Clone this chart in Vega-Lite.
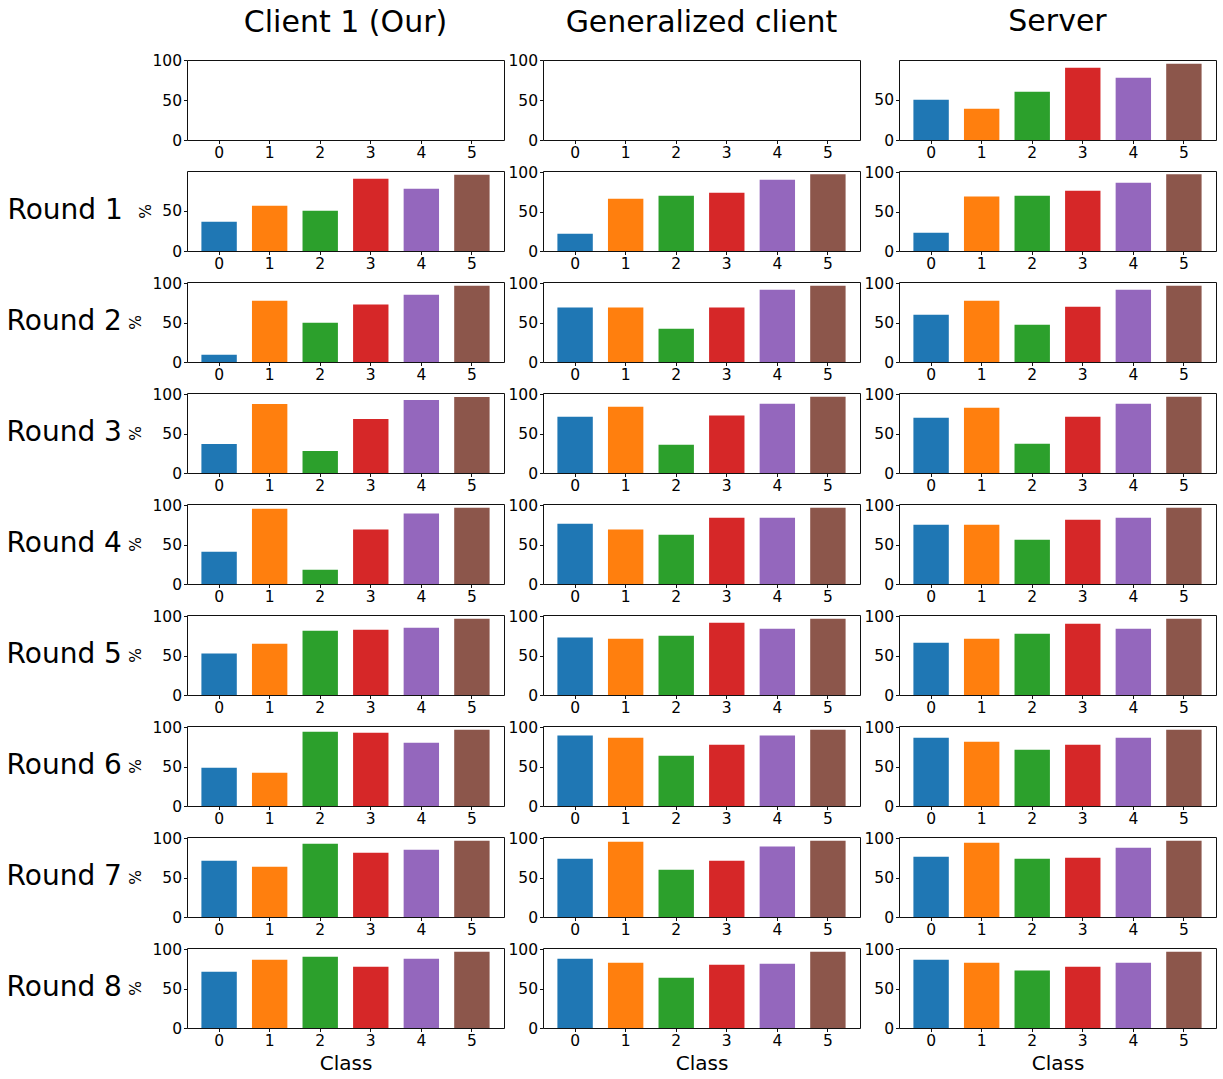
{
"$schema": "https://vega.github.io/schema/vega-lite/v6.json",
"background": "white",
"padding": {"left": 6, "top": 6, "right": 5, "bottom": 5},
"datasets": {"acc": [
{"round":0,"model":"server","cls":0,"acc":50.1},{"round":0,"model":"server","cls":1,"acc":38.9},{"round":0,"model":"server","cls":2,"acc":60},{"round":0,"model":"server","cls":3,"acc":89.8},{"round":0,"model":"server","cls":4,"acc":77.4},{"round":0,"model":"server","cls":5,"acc":94.7},
{"round":1,"model":"client","cls":0,"acc":36.6},{"round":1,"model":"client","cls":1,"acc":56.6},{"round":1,"model":"client","cls":2,"acc":50.3},{"round":1,"model":"client","cls":3,"acc":90.2},{"round":1,"model":"client","cls":4,"acc":77.8},{"round":1,"model":"client","cls":5,"acc":95},
{"round":2,"model":"client","cls":0,"acc":9.3},{"round":2,"model":"client","cls":1,"acc":77.8},{"round":2,"model":"client","cls":2,"acc":49.9},{"round":2,"model":"client","cls":3,"acc":72.8},{"round":2,"model":"client","cls":4,"acc":85.4},{"round":2,"model":"client","cls":5,"acc":96.9},
{"round":3,"model":"client","cls":0,"acc":36.8},{"round":3,"model":"client","cls":1,"acc":87.6},{"round":3,"model":"client","cls":2,"acc":27.9},{"round":3,"model":"client","cls":3,"acc":68.5},{"round":3,"model":"client","cls":4,"acc":92.6},{"round":3,"model":"client","cls":5,"acc":96.4},
{"round":4,"model":"client","cls":0,"acc":41},{"round":4,"model":"client","cls":1,"acc":95.6},{"round":4,"model":"client","cls":2,"acc":18.2},{"round":4,"model":"client","cls":3,"acc":69},{"round":4,"model":"client","cls":4,"acc":89.3},{"round":4,"model":"client","cls":5,"acc":96.9},
{"round":5,"model":"client","cls":0,"acc":52.5},{"round":5,"model":"client","cls":1,"acc":65.1},{"round":5,"model":"client","cls":2,"acc":81.6},{"round":5,"model":"client","cls":3,"acc":82.9},{"round":5,"model":"client","cls":4,"acc":85.4},{"round":5,"model":"client","cls":5,"acc":96.9},
{"round":6,"model":"client","cls":0,"acc":48.6},{"round":6,"model":"client","cls":1,"acc":42.3},{"round":6,"model":"client","cls":2,"acc":94.3},{"round":6,"model":"client","cls":3,"acc":93},{"round":6,"model":"client","cls":4,"acc":80.4},{"round":6,"model":"client","cls":5,"acc":96.9},
{"round":7,"model":"client","cls":0,"acc":71.5},{"round":7,"model":"client","cls":1,"acc":63.9},{"round":7,"model":"client","cls":2,"acc":93},{"round":7,"model":"client","cls":3,"acc":81.6},{"round":7,"model":"client","cls":4,"acc":85.4},{"round":7,"model":"client","cls":5,"acc":96.9},
{"round":8,"model":"client","cls":0,"acc":71.5},{"round":8,"model":"client","cls":1,"acc":86.7},{"round":8,"model":"client","cls":2,"acc":90.5},{"round":8,"model":"client","cls":3,"acc":77.8},{"round":8,"model":"client","cls":4,"acc":88},{"round":8,"model":"client","cls":5,"acc":96.9},
{"round":1,"model":"general","cls":0,"acc":22},{"round":1,"model":"general","cls":1,"acc":66.4},{"round":1,"model":"general","cls":2,"acc":70.2},{"round":1,"model":"general","cls":3,"acc":74},{"round":1,"model":"general","cls":4,"acc":90.5},{"round":1,"model":"general","cls":5,"acc":97.5},
{"round":2,"model":"general","cls":0,"acc":69},{"round":2,"model":"general","cls":1,"acc":69},{"round":2,"model":"general","cls":2,"acc":42.3},{"round":2,"model":"general","cls":3,"acc":69},{"round":2,"model":"general","cls":4,"acc":91.8},{"round":2,"model":"general","cls":5,"acc":96.9},
{"round":3,"model":"general","cls":0,"acc":71.5},{"round":3,"model":"general","cls":1,"acc":84.2},{"round":3,"model":"general","cls":2,"acc":36},{"round":3,"model":"general","cls":3,"acc":72.8},{"round":3,"model":"general","cls":4,"acc":88},{"round":3,"model":"general","cls":5,"acc":96.9},
{"round":4,"model":"general","cls":0,"acc":76.6},{"round":4,"model":"general","cls":1,"acc":69},{"round":4,"model":"general","cls":2,"acc":62.6},{"round":4,"model":"general","cls":3,"acc":84.2},{"round":4,"model":"general","cls":4,"acc":84.2},{"round":4,"model":"general","cls":5,"acc":96.9},
{"round":5,"model":"general","cls":0,"acc":72.8},{"round":5,"model":"general","cls":1,"acc":71.5},{"round":5,"model":"general","cls":2,"acc":75.3},{"round":5,"model":"general","cls":3,"acc":91.8},{"round":5,"model":"general","cls":4,"acc":84.2},{"round":5,"model":"general","cls":5,"acc":96.9},
{"round":6,"model":"general","cls":0,"acc":89.3},{"round":6,"model":"general","cls":1,"acc":86.7},{"round":6,"model":"general","cls":2,"acc":63.9},{"round":6,"model":"general","cls":3,"acc":77.8},{"round":6,"model":"general","cls":4,"acc":89.3},{"round":6,"model":"general","cls":5,"acc":96.9},
{"round":7,"model":"general","cls":0,"acc":74},{"round":7,"model":"general","cls":1,"acc":95.6},{"round":7,"model":"general","cls":2,"acc":60},{"round":7,"model":"general","cls":3,"acc":71.5},{"round":7,"model":"general","cls":4,"acc":89.3},{"round":7,"model":"general","cls":5,"acc":96.9},
{"round":8,"model":"general","cls":0,"acc":88},{"round":8,"model":"general","cls":1,"acc":82.9},{"round":8,"model":"general","cls":2,"acc":63.9},{"round":8,"model":"general","cls":3,"acc":80.4},{"round":8,"model":"general","cls":4,"acc":81.6},{"round":8,"model":"general","cls":5,"acc":96.9},
{"round":1,"model":"server","cls":0,"acc":23.3},{"round":1,"model":"server","cls":1,"acc":69},{"round":1,"model":"server","cls":2,"acc":70.2},{"round":1,"model":"server","cls":3,"acc":76.6},{"round":1,"model":"server","cls":4,"acc":86.7},{"round":1,"model":"server","cls":5,"acc":97.5},
{"round":2,"model":"server","cls":0,"acc":60},{"round":2,"model":"server","cls":1,"acc":77.8},{"round":2,"model":"server","cls":2,"acc":47.4},{"round":2,"model":"server","cls":3,"acc":70.2},{"round":2,"model":"server","cls":4,"acc":91.8},{"round":2,"model":"server","cls":5,"acc":96.9},
{"round":3,"model":"server","cls":0,"acc":70.2},{"round":3,"model":"server","cls":1,"acc":82.9},{"round":3,"model":"server","cls":2,"acc":37.2},{"round":3,"model":"server","cls":3,"acc":71.5},{"round":3,"model":"server","cls":4,"acc":88},{"round":3,"model":"server","cls":5,"acc":96.9},
{"round":4,"model":"server","cls":0,"acc":75.3},{"round":4,"model":"server","cls":1,"acc":75.3},{"round":4,"model":"server","cls":2,"acc":56.3},{"round":4,"model":"server","cls":3,"acc":81.6},{"round":4,"model":"server","cls":4,"acc":84.2},{"round":4,"model":"server","cls":5,"acc":96.9},
{"round":5,"model":"server","cls":0,"acc":66.4},{"round":5,"model":"server","cls":1,"acc":71.5},{"round":5,"model":"server","cls":2,"acc":77.8},{"round":5,"model":"server","cls":3,"acc":90.5},{"round":5,"model":"server","cls":4,"acc":84.2},{"round":5,"model":"server","cls":5,"acc":96.9},
{"round":6,"model":"server","cls":0,"acc":86.7},{"round":6,"model":"server","cls":1,"acc":81.6},{"round":6,"model":"server","cls":2,"acc":71.5},{"round":6,"model":"server","cls":3,"acc":77.8},{"round":6,"model":"server","cls":4,"acc":86.7},{"round":6,"model":"server","cls":5,"acc":96.9},
{"round":7,"model":"server","cls":0,"acc":76.6},{"round":7,"model":"server","cls":1,"acc":94.3},{"round":7,"model":"server","cls":2,"acc":74},{"round":7,"model":"server","cls":3,"acc":75.3},{"round":7,"model":"server","cls":4,"acc":88},{"round":7,"model":"server","cls":5,"acc":96.9},
{"round":8,"model":"server","cls":0,"acc":86.7},{"round":8,"model":"server","cls":1,"acc":82.9},{"round":8,"model":"server","cls":2,"acc":72.8},{"round":8,"model":"server","cls":3,"acc":77.8},{"round":8,"model":"server","cls":4,"acc":82.9},{"round":8,"model":"server","cls":5,"acc":96.9}
]},
"data": {"name": "acc"},
"columns": 3,
"bounds": "flush",
"spacing": {"row": 31, "column": 39},
"resolve": {"scale": {"x": "independent", "y": "independent"}},
"config": {
  "font": "DejaVu Sans",
  "view": {"stroke": "#111", "strokeWidth": 1},
  "axis": {"grid": false, "domain": false, "tickColor": "#111", "tickSize": 3.5, "tickWidth": 1, "labelFontSize": 15.5, "labelColor": "#000", "labelFont": "DejaVu Sans", "labelPadding": 2, "titleFont": "DejaVu Sans", "titleFontWeight": "normal", "titleColor": "#000", "titleFontSize": 15.5, "titlePadding": 8},
  "axisX": {"labelAngle": 0, "titleFontSize": 20, "titlePadding": 4},
  "title": {"font": "DejaVu Sans", "fontWeight": "normal", "color": "#000"},
  "bar": {"stroke": null}
},
"concat": [
{"width":317,"height":80,"title":{"text":"Client 1 (Our)","fontSize":30,"offset":15,"frame":"group"},"transform":[{"filter":"datum.round==0 && datum.model=='client'"}],"mark":"bar","encoding":{"x":{"field":"cls","type":"ordinal","scale":{"domain":[0,1,2,3,4,5],"paddingInner":0.3,"paddingOuter":0.285},"axis":{"title":null}},"y":{"field":"acc","type":"quantitative","scale":{"domain":[0,100],"nice":false},"axis":{"values":[0,50,100],"title":null}},"color":{"field":"cls","type":"nominal","scale":{"domain":[0,1,2,3,4,5],"range":["#1f77b4","#ff7f0e","#2ca02c","#d62728","#9467bd","#8c564b"]},"legend":null}}},
{"width":317,"height":80,"title":{"text":"Generalized client","fontSize":30,"offset":15,"frame":"group"},"transform":[{"filter":"datum.round==0 && datum.model=='general'"}],"mark":"bar","encoding":{"x":{"field":"cls","type":"ordinal","scale":{"domain":[0,1,2,3,4,5],"paddingInner":0.3,"paddingOuter":0.285},"axis":{"title":null}},"y":{"field":"acc","type":"quantitative","scale":{"domain":[0,100],"nice":false},"axis":{"values":[0,50,100],"title":null}},"color":{"field":"cls","type":"nominal","scale":{"domain":[0,1,2,3,4,5],"range":["#1f77b4","#ff7f0e","#2ca02c","#d62728","#9467bd","#8c564b"]},"legend":null}}},
{"width":317,"height":80,"title":{"text":"Server","fontSize":30,"offset":23,"frame":"group"},"transform":[{"filter":"datum.round==0 && datum.model=='server'"}],"mark":"bar","encoding":{"x":{"field":"cls","type":"ordinal","scale":{"domain":[0,1,2,3,4,5],"paddingInner":0.3,"paddingOuter":0.285},"axis":{"title":null}},"y":{"field":"acc","type":"quantitative","scale":{"domain":[0,99.3],"nice":false},"axis":{"values":[0,50,100],"title":null}},"color":{"field":"cls","type":"nominal","scale":{"domain":[0,1,2,3,4,5],"range":["#1f77b4","#ff7f0e","#2ca02c","#d62728","#9467bd","#8c564b"]},"legend":null}}},

{"width":317,"height":80,"title":{"text":"Round 1","orient":"left","angle":0,"align":"left","baseline":"middle","anchor":"middle","fontSize":28,"offset":16},"transform":[{"filter":"datum.round==1 && datum.model=='client'"}],"mark":"bar","encoding":{"x":{"field":"cls","type":"ordinal","scale":{"domain":[0,1,2,3,4,5],"paddingInner":0.3,"paddingOuter":0.285},"axis":{"title":null}},"y":{"field":"acc","type":"quantitative","scale":{"domain":[0,99.8],"nice":false},"axis":{"values":[0,50,100],"title":"%"}},"color":{"field":"cls","type":"nominal","scale":{"domain":[0,1,2,3,4,5],"range":["#1f77b4","#ff7f0e","#2ca02c","#d62728","#9467bd","#8c564b"]},"legend":null}}},
{"width":317,"height":80,"transform":[{"filter":"datum.round==1 && datum.model=='general'"}],"mark":"bar","encoding":{"x":{"field":"cls","type":"ordinal","scale":{"domain":[0,1,2,3,4,5],"paddingInner":0.3,"paddingOuter":0.285},"axis":{"title":null}},"y":{"field":"acc","type":"quantitative","scale":{"domain":[0,101.5],"nice":false},"axis":{"values":[0,50,100],"title":null}},"color":{"field":"cls","type":"nominal","scale":{"domain":[0,1,2,3,4,5],"range":["#1f77b4","#ff7f0e","#2ca02c","#d62728","#9467bd","#8c564b"]},"legend":null}}},
{"width":317,"height":80,"transform":[{"filter":"datum.round==1 && datum.model=='server'"}],"mark":"bar","encoding":{"x":{"field":"cls","type":"ordinal","scale":{"domain":[0,1,2,3,4,5],"paddingInner":0.3,"paddingOuter":0.285},"axis":{"title":null}},"y":{"field":"acc","type":"quantitative","scale":{"domain":[0,101.5],"nice":false},"axis":{"values":[0,50,100],"title":null}},"color":{"field":"cls","type":"nominal","scale":{"domain":[0,1,2,3,4,5],"range":["#1f77b4","#ff7f0e","#2ca02c","#d62728","#9467bd","#8c564b"]},"legend":null}}},

{"width":317,"height":80,"title":{"text":"Round 2","orient":"left","angle":0,"align":"left","baseline":"middle","anchor":"middle","fontSize":28,"offset":7},"transform":[{"filter":"datum.round==2 && datum.model=='client'"}],"mark":"bar","encoding":{"x":{"field":"cls","type":"ordinal","scale":{"domain":[0,1,2,3,4,5],"paddingInner":0.3,"paddingOuter":0.285},"axis":{"title":null}},"y":{"field":"acc","type":"quantitative","scale":{"domain":[0,101.5],"nice":false},"axis":{"values":[0,50,100],"title":"%"}},"color":{"field":"cls","type":"nominal","scale":{"domain":[0,1,2,3,4,5],"range":["#1f77b4","#ff7f0e","#2ca02c","#d62728","#9467bd","#8c564b"]},"legend":null}}},
{"width":317,"height":80,"transform":[{"filter":"datum.round==2 && datum.model=='general'"}],"mark":"bar","encoding":{"x":{"field":"cls","type":"ordinal","scale":{"domain":[0,1,2,3,4,5],"paddingInner":0.3,"paddingOuter":0.285},"axis":{"title":null}},"y":{"field":"acc","type":"quantitative","scale":{"domain":[0,101.5],"nice":false},"axis":{"values":[0,50,100],"title":null}},"color":{"field":"cls","type":"nominal","scale":{"domain":[0,1,2,3,4,5],"range":["#1f77b4","#ff7f0e","#2ca02c","#d62728","#9467bd","#8c564b"]},"legend":null}}},
{"width":317,"height":80,"transform":[{"filter":"datum.round==2 && datum.model=='server'"}],"mark":"bar","encoding":{"x":{"field":"cls","type":"ordinal","scale":{"domain":[0,1,2,3,4,5],"paddingInner":0.3,"paddingOuter":0.285},"axis":{"title":null}},"y":{"field":"acc","type":"quantitative","scale":{"domain":[0,101.5],"nice":false},"axis":{"values":[0,50,100],"title":null}},"color":{"field":"cls","type":"nominal","scale":{"domain":[0,1,2,3,4,5],"range":["#1f77b4","#ff7f0e","#2ca02c","#d62728","#9467bd","#8c564b"]},"legend":null}}},

{"width":317,"height":80,"title":{"text":"Round 3","orient":"left","angle":0,"align":"left","baseline":"middle","anchor":"middle","fontSize":28,"offset":7},"transform":[{"filter":"datum.round==3 && datum.model=='client'"}],"mark":"bar","encoding":{"x":{"field":"cls","type":"ordinal","scale":{"domain":[0,1,2,3,4,5],"paddingInner":0.3,"paddingOuter":0.285},"axis":{"title":null}},"y":{"field":"acc","type":"quantitative","scale":{"domain":[0,101.5],"nice":false},"axis":{"values":[0,50,100],"title":"%"}},"color":{"field":"cls","type":"nominal","scale":{"domain":[0,1,2,3,4,5],"range":["#1f77b4","#ff7f0e","#2ca02c","#d62728","#9467bd","#8c564b"]},"legend":null}}},
{"width":317,"height":80,"transform":[{"filter":"datum.round==3 && datum.model=='general'"}],"mark":"bar","encoding":{"x":{"field":"cls","type":"ordinal","scale":{"domain":[0,1,2,3,4,5],"paddingInner":0.3,"paddingOuter":0.285},"axis":{"title":null}},"y":{"field":"acc","type":"quantitative","scale":{"domain":[0,101.5],"nice":false},"axis":{"values":[0,50,100],"title":null}},"color":{"field":"cls","type":"nominal","scale":{"domain":[0,1,2,3,4,5],"range":["#1f77b4","#ff7f0e","#2ca02c","#d62728","#9467bd","#8c564b"]},"legend":null}}},
{"width":317,"height":80,"transform":[{"filter":"datum.round==3 && datum.model=='server'"}],"mark":"bar","encoding":{"x":{"field":"cls","type":"ordinal","scale":{"domain":[0,1,2,3,4,5],"paddingInner":0.3,"paddingOuter":0.285},"axis":{"title":null}},"y":{"field":"acc","type":"quantitative","scale":{"domain":[0,101.5],"nice":false},"axis":{"values":[0,50,100],"title":null}},"color":{"field":"cls","type":"nominal","scale":{"domain":[0,1,2,3,4,5],"range":["#1f77b4","#ff7f0e","#2ca02c","#d62728","#9467bd","#8c564b"]},"legend":null}}},

{"width":317,"height":80,"title":{"text":"Round 4","orient":"left","angle":0,"align":"left","baseline":"middle","anchor":"middle","fontSize":28,"offset":7},"transform":[{"filter":"datum.round==4 && datum.model=='client'"}],"mark":"bar","encoding":{"x":{"field":"cls","type":"ordinal","scale":{"domain":[0,1,2,3,4,5],"paddingInner":0.3,"paddingOuter":0.285},"axis":{"title":null}},"y":{"field":"acc","type":"quantitative","scale":{"domain":[0,101.5],"nice":false},"axis":{"values":[0,50,100],"title":"%"}},"color":{"field":"cls","type":"nominal","scale":{"domain":[0,1,2,3,4,5],"range":["#1f77b4","#ff7f0e","#2ca02c","#d62728","#9467bd","#8c564b"]},"legend":null}}},
{"width":317,"height":80,"transform":[{"filter":"datum.round==4 && datum.model=='general'"}],"mark":"bar","encoding":{"x":{"field":"cls","type":"ordinal","scale":{"domain":[0,1,2,3,4,5],"paddingInner":0.3,"paddingOuter":0.285},"axis":{"title":null}},"y":{"field":"acc","type":"quantitative","scale":{"domain":[0,101.5],"nice":false},"axis":{"values":[0,50,100],"title":null}},"color":{"field":"cls","type":"nominal","scale":{"domain":[0,1,2,3,4,5],"range":["#1f77b4","#ff7f0e","#2ca02c","#d62728","#9467bd","#8c564b"]},"legend":null}}},
{"width":317,"height":80,"transform":[{"filter":"datum.round==4 && datum.model=='server'"}],"mark":"bar","encoding":{"x":{"field":"cls","type":"ordinal","scale":{"domain":[0,1,2,3,4,5],"paddingInner":0.3,"paddingOuter":0.285},"axis":{"title":null}},"y":{"field":"acc","type":"quantitative","scale":{"domain":[0,101.5],"nice":false},"axis":{"values":[0,50,100],"title":null}},"color":{"field":"cls","type":"nominal","scale":{"domain":[0,1,2,3,4,5],"range":["#1f77b4","#ff7f0e","#2ca02c","#d62728","#9467bd","#8c564b"]},"legend":null}}},

{"width":317,"height":80,"title":{"text":"Round 5","orient":"left","angle":0,"align":"left","baseline":"middle","anchor":"middle","fontSize":28,"offset":7},"transform":[{"filter":"datum.round==5 && datum.model=='client'"}],"mark":"bar","encoding":{"x":{"field":"cls","type":"ordinal","scale":{"domain":[0,1,2,3,4,5],"paddingInner":0.3,"paddingOuter":0.285},"axis":{"title":null}},"y":{"field":"acc","type":"quantitative","scale":{"domain":[0,101.5],"nice":false},"axis":{"values":[0,50,100],"title":"%"}},"color":{"field":"cls","type":"nominal","scale":{"domain":[0,1,2,3,4,5],"range":["#1f77b4","#ff7f0e","#2ca02c","#d62728","#9467bd","#8c564b"]},"legend":null}}},
{"width":317,"height":80,"transform":[{"filter":"datum.round==5 && datum.model=='general'"}],"mark":"bar","encoding":{"x":{"field":"cls","type":"ordinal","scale":{"domain":[0,1,2,3,4,5],"paddingInner":0.3,"paddingOuter":0.285},"axis":{"title":null}},"y":{"field":"acc","type":"quantitative","scale":{"domain":[0,101.5],"nice":false},"axis":{"values":[0,50,100],"title":null}},"color":{"field":"cls","type":"nominal","scale":{"domain":[0,1,2,3,4,5],"range":["#1f77b4","#ff7f0e","#2ca02c","#d62728","#9467bd","#8c564b"]},"legend":null}}},
{"width":317,"height":80,"transform":[{"filter":"datum.round==5 && datum.model=='server'"}],"mark":"bar","encoding":{"x":{"field":"cls","type":"ordinal","scale":{"domain":[0,1,2,3,4,5],"paddingInner":0.3,"paddingOuter":0.285},"axis":{"title":null}},"y":{"field":"acc","type":"quantitative","scale":{"domain":[0,101.5],"nice":false},"axis":{"values":[0,50,100],"title":null}},"color":{"field":"cls","type":"nominal","scale":{"domain":[0,1,2,3,4,5],"range":["#1f77b4","#ff7f0e","#2ca02c","#d62728","#9467bd","#8c564b"]},"legend":null}}},

{"width":317,"height":80,"title":{"text":"Round 6","orient":"left","angle":0,"align":"left","baseline":"middle","anchor":"middle","fontSize":28,"offset":7},"transform":[{"filter":"datum.round==6 && datum.model=='client'"}],"mark":"bar","encoding":{"x":{"field":"cls","type":"ordinal","scale":{"domain":[0,1,2,3,4,5],"paddingInner":0.3,"paddingOuter":0.285},"axis":{"title":null}},"y":{"field":"acc","type":"quantitative","scale":{"domain":[0,101.5],"nice":false},"axis":{"values":[0,50,100],"title":"%"}},"color":{"field":"cls","type":"nominal","scale":{"domain":[0,1,2,3,4,5],"range":["#1f77b4","#ff7f0e","#2ca02c","#d62728","#9467bd","#8c564b"]},"legend":null}}},
{"width":317,"height":80,"transform":[{"filter":"datum.round==6 && datum.model=='general'"}],"mark":"bar","encoding":{"x":{"field":"cls","type":"ordinal","scale":{"domain":[0,1,2,3,4,5],"paddingInner":0.3,"paddingOuter":0.285},"axis":{"title":null}},"y":{"field":"acc","type":"quantitative","scale":{"domain":[0,101.5],"nice":false},"axis":{"values":[0,50,100],"title":null}},"color":{"field":"cls","type":"nominal","scale":{"domain":[0,1,2,3,4,5],"range":["#1f77b4","#ff7f0e","#2ca02c","#d62728","#9467bd","#8c564b"]},"legend":null}}},
{"width":317,"height":80,"transform":[{"filter":"datum.round==6 && datum.model=='server'"}],"mark":"bar","encoding":{"x":{"field":"cls","type":"ordinal","scale":{"domain":[0,1,2,3,4,5],"paddingInner":0.3,"paddingOuter":0.285},"axis":{"title":null}},"y":{"field":"acc","type":"quantitative","scale":{"domain":[0,101.5],"nice":false},"axis":{"values":[0,50,100],"title":null}},"color":{"field":"cls","type":"nominal","scale":{"domain":[0,1,2,3,4,5],"range":["#1f77b4","#ff7f0e","#2ca02c","#d62728","#9467bd","#8c564b"]},"legend":null}}},

{"width":317,"height":80,"title":{"text":"Round 7","orient":"left","angle":0,"align":"left","baseline":"middle","anchor":"middle","fontSize":28,"offset":7},"transform":[{"filter":"datum.round==7 && datum.model=='client'"}],"mark":"bar","encoding":{"x":{"field":"cls","type":"ordinal","scale":{"domain":[0,1,2,3,4,5],"paddingInner":0.3,"paddingOuter":0.285},"axis":{"title":null}},"y":{"field":"acc","type":"quantitative","scale":{"domain":[0,101.5],"nice":false},"axis":{"values":[0,50,100],"title":"%"}},"color":{"field":"cls","type":"nominal","scale":{"domain":[0,1,2,3,4,5],"range":["#1f77b4","#ff7f0e","#2ca02c","#d62728","#9467bd","#8c564b"]},"legend":null}}},
{"width":317,"height":80,"transform":[{"filter":"datum.round==7 && datum.model=='general'"}],"mark":"bar","encoding":{"x":{"field":"cls","type":"ordinal","scale":{"domain":[0,1,2,3,4,5],"paddingInner":0.3,"paddingOuter":0.285},"axis":{"title":null}},"y":{"field":"acc","type":"quantitative","scale":{"domain":[0,101.5],"nice":false},"axis":{"values":[0,50,100],"title":null}},"color":{"field":"cls","type":"nominal","scale":{"domain":[0,1,2,3,4,5],"range":["#1f77b4","#ff7f0e","#2ca02c","#d62728","#9467bd","#8c564b"]},"legend":null}}},
{"width":317,"height":80,"transform":[{"filter":"datum.round==7 && datum.model=='server'"}],"mark":"bar","encoding":{"x":{"field":"cls","type":"ordinal","scale":{"domain":[0,1,2,3,4,5],"paddingInner":0.3,"paddingOuter":0.285},"axis":{"title":null}},"y":{"field":"acc","type":"quantitative","scale":{"domain":[0,101.5],"nice":false},"axis":{"values":[0,50,100],"title":null}},"color":{"field":"cls","type":"nominal","scale":{"domain":[0,1,2,3,4,5],"range":["#1f77b4","#ff7f0e","#2ca02c","#d62728","#9467bd","#8c564b"]},"legend":null}}},

{"width":317,"height":80,"title":{"text":"Round 8","orient":"left","angle":0,"align":"left","baseline":"middle","anchor":"middle","fontSize":28,"offset":7},"transform":[{"filter":"datum.round==8 && datum.model=='client'"}],"mark":"bar","encoding":{"x":{"field":"cls","type":"ordinal","scale":{"domain":[0,1,2,3,4,5],"paddingInner":0.3,"paddingOuter":0.285},"axis":{"title":"Class"}},"y":{"field":"acc","type":"quantitative","scale":{"domain":[0,101.5],"nice":false},"axis":{"values":[0,50,100],"title":"%"}},"color":{"field":"cls","type":"nominal","scale":{"domain":[0,1,2,3,4,5],"range":["#1f77b4","#ff7f0e","#2ca02c","#d62728","#9467bd","#8c564b"]},"legend":null}}},
{"width":317,"height":80,"transform":[{"filter":"datum.round==8 && datum.model=='general'"}],"mark":"bar","encoding":{"x":{"field":"cls","type":"ordinal","scale":{"domain":[0,1,2,3,4,5],"paddingInner":0.3,"paddingOuter":0.285},"axis":{"title":"Class"}},"y":{"field":"acc","type":"quantitative","scale":{"domain":[0,101.5],"nice":false},"axis":{"values":[0,50,100],"title":null}},"color":{"field":"cls","type":"nominal","scale":{"domain":[0,1,2,3,4,5],"range":["#1f77b4","#ff7f0e","#2ca02c","#d62728","#9467bd","#8c564b"]},"legend":null}}},
{"width":317,"height":80,"transform":[{"filter":"datum.round==8 && datum.model=='server'"}],"mark":"bar","encoding":{"x":{"field":"cls","type":"ordinal","scale":{"domain":[0,1,2,3,4,5],"paddingInner":0.3,"paddingOuter":0.285},"axis":{"title":"Class"}},"y":{"field":"acc","type":"quantitative","scale":{"domain":[0,101.5],"nice":false},"axis":{"values":[0,50,100],"title":null}},"color":{"field":"cls","type":"nominal","scale":{"domain":[0,1,2,3,4,5],"range":["#1f77b4","#ff7f0e","#2ca02c","#d62728","#9467bd","#8c564b"]},"legend":null}}}
]
}
